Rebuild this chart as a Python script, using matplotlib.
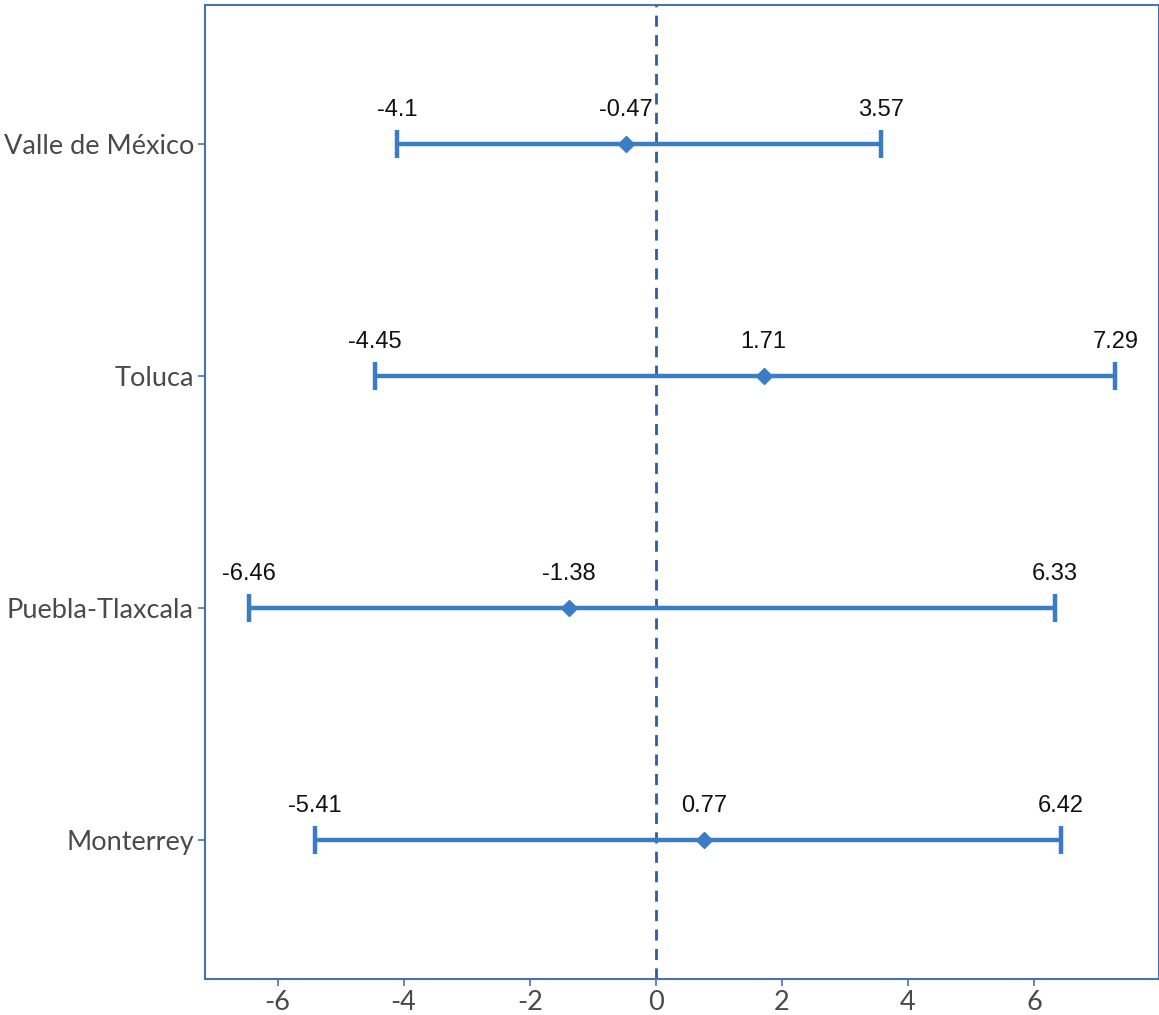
import numpy as np
import matplotlib.pyplot as plt

regions = ["Valle de México", "Toluca", "Puebla-Tlaxcala", "Monterrey"]
lower = [-4.1, -4.45, -6.46, -5.41]
estimate = [-0.47, 1.71, -1.38, 0.77]
upper = [3.57, 7.29, 6.33, 6.42]
xticks = [-6, -4, -2, 0, 2, 4, 6]

line_col = "#3a7cc6"
frame_col = "#4a72b0"

fig = plt.figure(figsize=(11.59, 10.15), dpi=100)
ax = fig.add_axes([0.1769, 0.0355, 0.8231, 0.96])

y = np.arange(len(regions))[::-1]
lo = np.array(estimate) - np.array(lower)
hi = np.array(upper) - np.array(estimate)
ax.errorbar(estimate, y, xerr=[lo, hi], fmt="none", ecolor=line_col,
            elinewidth=3.2, capsize=10, capthick=3.2)
ax.plot(estimate, y, "D", color=line_col, markersize=8, zorder=3)

ax.axvline(0, color="#2f5d9e", linestyle=(0, (4, 3)), linewidth=2, zorder=1)

# value labels above each bar
for yi, a, m, b in zip(y, lower, estimate, upper):
    for v in (a, m, b):
        ax.text(v, yi + 0.1, f"{v:g}", ha="center", va="bottom",
                fontsize=17, family="Liberation Sans", color="#111111")

ax.set_yticks(y)
ax.set_yticklabels(regions)
ax.set_xticks(xticks)
ax.set_xticklabels([str(t) for t in xticks])
ax.set_xlim(-7.15, 7.98)
ax.set_ylim(-0.6, len(regions) - 0.4)

for lab in ax.get_xticklabels() + ax.get_yticklabels():
    lab.set_family("Lato")
    lab.set_fontsize(19.5)
    lab.set_color("#4a4a4a")

for s in ax.spines.values():
    s.set_color(frame_col)
    s.set_linewidth(1.5)
ax.tick_params(length=5, width=1.2, color=frame_col, pad=3)

fig.savefig("out.png", dpi=100)
